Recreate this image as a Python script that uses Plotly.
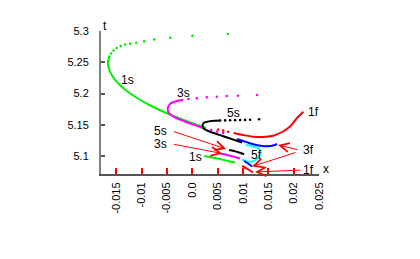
import plotly.graph_objects as go

# ---- data (x, t) ----
s1_up_x = [0.00701, 0.00004, -0.00435, -0.00751, -0.00948, -0.01106, -0.01224, -0.01322, -0.01411, -0.01490, -0.01553, -0.01604, -0.01637]
s1_up_t = [5.2952, 5.2925, 5.2893, 5.2864, 5.2837, 5.2813, 5.2797, 5.2784, 5.2760, 5.2728, 5.2688, 5.2640, 5.2592]
s1_lo_x = [-0.01637, -0.01663, -0.01655, -0.01635, -0.01588, -0.01519, -0.01429, -0.01316, -0.01180, -0.01023, -0.00843, -0.00642, -0.00418, -0.00171, 0.00097, 0.00268]
s1_lo_t = [5.2592, 5.2504, 5.2440, 5.2376, 5.2296, 5.2216, 5.2136, 5.2056, 5.1976, 5.1896, 5.1816, 5.1736, 5.1656, 5.1576, 5.1496, 5.1448]

s3_up_x = [0.01279, 0.00904, 0.00682, 0.00485, 0.00288, 0.00091, -0.00075, -0.00199]
s3_up_t = [5.1976, 5.1965, 5.1960, 5.1949, 5.1939, 5.1923, 5.1912, 5.1896]
s3_lo_x = [-0.00199, -0.00303, -0.00396, -0.00455, -0.00485, -0.00465, -0.00416, -0.00337, -0.00238, -0.00120, 0.00018, 0.00156, 0.00254]
s3_lo_t = [5.1896, 5.1880, 5.1856, 5.1816, 5.1752, 5.1696, 5.1656, 5.1616, 5.1581, 5.1544, 5.1504, 5.1464, 5.1440]
s3_tail_x = [0.00372, 0.00491, 0.00609]
s3_tail_t = [5.1416, 5.1392, 5.1368]

s5_up_x = [0.01318, 0.01141, 0.01042, 0.00944, 0.00845, 0.00747, 0.00648, 0.00550]
s5_up_t = [5.1587, 5.1580, 5.1578, 5.1576, 5.1574, 5.1572, 5.1570, 5.1568]
s5_lo_x = [0.00550, 0.00451, 0.00352, 0.00274, 0.00215, 0.00205, 0.00215, 0.00294, 0.00392, 0.00510, 0.00628, 0.00747, 0.00865, 0.00983]
s5_lo_t = [5.1568, 5.1565, 5.1558, 5.1544, 5.1520, 5.1488, 5.1448, 5.1408, 5.1376, 5.1344, 5.1312, 5.1280, 5.1248, 5.1216]

f3_x = [0.00885, 0.01003, 0.01121, 0.01259, 0.01377, 0.01495, 0.01594, 0.01673]
f3_t = [5.1272, 5.1240, 5.1208, 5.1176, 5.1160, 5.1157, 5.1168, 5.1192]

f1_x = [0.02191, 0.02067, 0.01929, 0.01791, 0.01594, 0.01397, 0.01200, 0.01003, 0.00816]
f1_t = [5.1709, 5.1608, 5.1472, 5.1392, 5.1325, 5.1304, 5.1309, 5.1336, 5.1368]
f1_tail_x = [0.00707, 0.00609, 0.00510]
f1_tail_t = [5.1387, 5.1406, 5.1424]

# lower (second-band) segments
s1b_x = [0.00234, 0.00392, 0.00550, 0.00707, 0.00845]
s1b_t = [5.1000, 5.0976, 5.0952, 5.0920, 5.0896]
s3b_x = [0.00550, 0.00688, 0.00825, 0.00944]
s3b_t = [5.1040, 5.1016, 5.0989, 5.0960]
s5b_x = [0.00727, 0.00825, 0.00924, 0.01023]
s5b_t = [5.1096, 5.1080, 5.1056, 5.1027]
f5_x = [0.01062, 0.01180, 0.01279, 0.01338, 0.01348, 0.01318, 0.01259, 0.01180, 0.01082, 0.00983]
f5_t = [5.1176, 5.1160, 5.1136, 5.1096, 5.1048, 5.0992, 5.0944, 5.0912, 5.0912, 5.0944]
f3b_x = [0.01023, 0.01101, 0.01180]
f3b_t = [5.0920, 5.0880, 5.0832]
f1b_x = [0.00983, 0.01092, 0.01200]
f1b_t = [5.0840, 5.0792, 5.0736]

x_ticks = [-0.015, -0.01, -0.005, 0.0, 0.005, 0.01, 0.015, 0.02, 0.025]
x_tick_text = ["-0.015", "-0.01", "-0.005", "0.0", "0.005", "0.01", "0.015", "0.02", "0.025"]
y_ticks = [5.1, 5.15, 5.2, 5.25, 5.3]
y_tick_text = ["5.1", "5.15", "5.2", "5.25", "5.3"]

labels = [("1s", -0.01281, 5.2216), ("3s", -0.00179, 5.2008), ("5s", 0.00806, 5.1688),
          ("1f", 0.02382, 5.1704), ("5s", -0.00632, 5.1400), ("3s", -0.00632, 5.1192),
          ("1s", 0.00057, 5.0984), ("5f", 0.01259, 5.1016), ("3f", 0.02293, 5.1096),
          ("1f", 0.02289, 5.0784)]
# arrows: (tail x, tail t, head x, head t)
arrows = [(-0.00396, 5.1400, 0.00668, 5.1112), (-0.00396, 5.1192, 0.00589, 5.1040),
          (0.02106, 5.1096, 0.01692, 5.1176), (0.02067, 5.1064, 0.01180, 5.0832),
          (0.02166, 5.0776, 0.01239, 5.0744)]

GREEN, MAG, RED, BLUE, CYAN, BLK = "#00ee00", "#ff00ff", "#ff0000", "#0000ff", "#00ffff", "#000000"

fig = go.Figure()

def dots(x, y, c, size=2.6):
    fig.add_trace(go.Scatter(x=x, y=y, mode="markers", marker=dict(color=c, size=size, line=dict(width=0)),
                             hoverinfo="skip", showlegend=False))

def line(x, y, c, w=2):
    fig.add_trace(go.Scatter(x=x, y=y, mode="lines", line=dict(color=c, width=w, shape="spline"),
                             hoverinfo="skip", showlegend=False))

dots(s1_up_x, s1_up_t, GREEN)
line(s1_lo_x, s1_lo_t, GREEN)
line(f1_x, f1_t, RED)
dots(f1_tail_x, f1_tail_t, RED)
dots(s3_up_x, s3_up_t, MAG)
line(s3_lo_x, s3_lo_t, MAG)
dots(s3_tail_x, s3_tail_t, MAG)
dots(s5_up_x, s5_up_t, BLK)
line(s5_lo_x, s5_lo_t, BLK)
line(f3_x, f3_t, BLUE)
line(s1b_x, s1b_t, GREEN)
line(s3b_x, s3b_t, MAG)
line(s5b_x, s5b_t, BLK)
line(f5_x, f5_t, CYAN)
line(f3b_x, f3b_t, BLUE)
line(f1b_x, f1b_t, RED)

ann = []
for txt, x, y in labels:
    ann.append(dict(x=x, y=y, xref="x", yref="y", text=txt, showarrow=False,
                    font=dict(family="Liberation Sans", size=12, color="#000000")))
for tx, ty, hx, hy in arrows:
    ann.append(dict(x=hx, y=hy, ax=tx, ay=ty, xref="x", yref="y", axref="x", ayref="y",
                    text="", showarrow=True, arrowhead=5, arrowsize=1.8, arrowwidth=1,
                    arrowcolor=RED, standoff=0, startstandoff=0))
ann.append(dict(x=0, y=1.098, xref="paper", yref="paper", text="t", showarrow=False,
                font=dict(family="Liberation Sans", size=12, color="#000000")))
ann.append(dict(x=1.055, y=-0.028, xref="paper", yref="paper", text="x", showarrow=False,
                font=dict(family="Liberation Sans", size=12, color="#000000")))

# page body adds an 8px offset; the figure is sized so the plot box lands where the reference has it
fig.update_layout(
    width=412, height=251,
    margin=dict(l=93, r=101, t=23, b=85, pad=0),
    paper_bgcolor="white", plot_bgcolor="white",
    annotations=ann,
    xaxis=dict(range=[-0.018, 0.025], tickvals=x_ticks, ticktext=x_tick_text, tickangle=-90,
               ticks="inside", ticklen=6, tickwidth=2, tickcolor=RED, ticklabelstandoff=2,
               showline=True, linecolor="#555555", linewidth=2, showgrid=False, zeroline=False,
               tickfont=dict(family="Liberation Sans", size=11, color="#000000")),
    yaxis=dict(range=[5.0712, 5.3], tickvals=y_ticks, ticktext=y_tick_text,
               ticks="inside", ticklen=4, tickwidth=1.5, tickcolor="#555555", ticklabelstandoff=8,
               showline=True, linecolor="#808080", linewidth=2, showgrid=False, zeroline=False,
               tickfont=dict(family="Liberation Sans", size=11, color="#000000")),
)

fig.write_html("out.html")
